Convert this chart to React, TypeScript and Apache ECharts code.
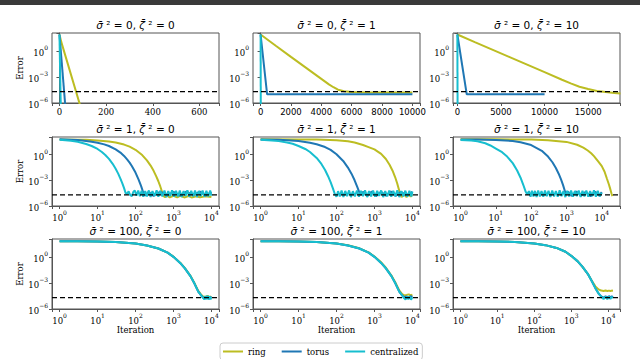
import React, { useEffect, useRef } from 'react';
import * as echarts from 'echarts';

const SERIES_NAMES = ['ring', 'torus', 'centralized'];
const SERIES_COLORS = ['#bcbd22', '#1f77b4', '#17becf'];
const SIGMA_VALUES = ['0', '1', '100'];
const ZETA_VALUES = ['0', '1', '10'];
const ERROR_FLOOR = 2e-5;
const Y_MIN = 1e-6;
const Y_MAX = 112;

// x axis ranges per panel (row-major)
const X_MIN = [-32, -500, -500, 0.631, 0.631, 0.61, 0.631, 0.631, 0.63];
const X_MAX = [684, 10500, 18650, 15849, 15849, 32800, 15849, 15849, 20900];
const X_STEP = [200, 2000, 5000, 1, 1, 1, 1, 1, 1];
const X_SPLIT = [4, 5, 4, 5, 5, 5, 5, 5, 5];

// ---- sigma^2 = 0 ----
const ringS0Z0 = [[0, 75], [8, 10], [100, 5e-8]];
const torusS0Z0 = [[0, 75], [27, 1e-7]];
const centralS0Z0 = [[0, 75], [6, 1e-7]];

const ringS0Z1 = [[0, 75], [1000, 3.8], [2000, 0.2], [3000, 0.011], [4000, 6e-4], [4500, 1.4e-4], [4800, 6.5e-5], [5100, 3.4e-5], [5500, 2.2e-5], [6000, 1.8e-5], [7000, 1.65e-5], [8000, 1.6e-5], [10000, 1.6e-5]];
const torusS0Z1 = [[0, 75], [430, 1e-5], [10000, 1e-5]];
const centralS0Z1 = [[0, 75], [15, 1e-8]];

const ringS0Z10 = [[0, 75], [2000, 10], [4000, 1.4], [6000, 0.19], [8000, 0.026], [10000, 3.5e-3], [12000, 4.7e-4], [13000, 1.8e-4], [14000, 7.5e-5], [15000, 4e-5], [16000, 2.4e-5], [17000, 1.8e-5], [18000, 1.4e-5], [18700, 1.25e-5]];
const torusS0Z10 = [[0, 75], [1075, 1e-5], [10000, 1e-5]];
const centralS0Z10 = [[0, 75], [30, 1e-8]];

// ---- sigma^2 = 1 ----
const ringS1Z0 = [[1, 58], [3, 55], [5, 52], [10, 45], [20, 34], [30, 26], [50, 14.6], [70, 8.3], [100, 3.6], [150, 0.88], [200, 0.21], [250, 0.052], [300, 0.0127], [350, 3.1e-3], [400, 7.7e-4], [450, 1.9e-4], [500, 4.6e-5], [540, 1.5e-5], [600, 1.1e-5], [700, 1.6e-5], [800, 1e-5], [1000, 1.5e-5], [1250, 1e-5], [1500, 1.5e-5], [2000, 1e-5], [2500, 1.45e-5], [3000, 1e-5], [4000, 1.4e-5], [5000, 1.05e-5], [7000, 1.4e-5], [10000, 1.1e-5]];
const torusS1Z0 = [[1, 60], [2, 55], [3, 50], [5, 38], [7, 31], [10, 24.5], [15, 15.5], [20, 10], [30, 4.1], [40, 1.7], [50, 0.69], [60, 0.28], [70, 0.116], [80, 0.047], [100, 7.9e-3], [120, 1.3e-3], [140, 2.2e-4], [160, 3.7e-5], [180, 1.6e-5], [220, 4.4e-5], [300, 1.5e-5], [450, 4.8e-5], [700, 1.7e-5], [1000, 4.6e-5], [1500, 1.6e-5], [2200, 4.9e-5], [3300, 1.8e-5], [5000, 4.7e-5], [7000, 1.6e-5], [10000, 4.3e-5]];
const centralS1Z0 = [[1, 55], [2, 42], [3, 31], [5, 17], [7, 10], [10, 4.5], [13, 1.96], [16, 0.89], [20, 0.31], [25, 0.083], [30, 0.022], [35, 6e-3], [40, 1.6e-3], [45, 4.4e-4], [50, 1.2e-4], [55, 3.2e-5], [60, 2.6e-5], [66, 5.2e-5], [72, 2e-5], [80, 1.4e-5], [88, 4.6e-5], [96, 6.4e-5], [106, 1.6e-5], [118, 6.5e-5], [130, 1.4e-5], [145, 6e-5], [160, 1.2e-5], [180, 5.6e-5], [200, 1.3e-5], [225, 6.6e-5], [250, 1.1e-5], [280, 5.4e-5], [320, 1.5e-5], [360, 6.8e-5], [400, 1.2e-5], [450, 5.9e-5], [510, 1.3e-5], [580, 6.4e-5], [650, 1.1e-5], [730, 5.5e-5], [820, 1.4e-5], [920, 6.9e-5], [1040, 1.2e-5], [1170, 5.8e-5], [1310, 1.3e-5], [1470, 6.3e-5], [1650, 1.1e-5], [1850, 5.6e-5], [2080, 1.5e-5], [2330, 6.6e-5], [2620, 1.2e-5], [2940, 6e-5], [3300, 1.3e-5], [3700, 6.5e-5], [4150, 1.1e-5], [4650, 5.7e-5], [5220, 1.4e-5], [5860, 6.2e-5], [6580, 1.2e-5], [7380, 5.9e-5], [8280, 1.3e-5], [9290, 6.4e-5], [10000, 1.6e-5]];

const ringS1Z1 = [[1, 60], [10, 59], [30, 57], [100, 48], [200, 35], [300, 25], [500, 13], [700, 7.5], [1000, 4], [1500, 1.2], [2000, 0.3], [2500, 0.065], [3000, 0.013], [3500, 2.4e-3], [4000, 4e-4], [4500, 6e-5], [4800, 2e-5], [5200, 1.1e-5], [6000, 2.4e-5], [7000, 1.1e-5], [8000, 2.3e-5], [9000, 1.2e-5], [10000, 2.2e-5]];
const torusS1Z1 = [[1, 58], [3, 53], [5, 48], [10, 38], [20, 24], [30, 16], [50, 7.5], [70, 3.5], [100, 1.1], [150, 0.18], [200, 0.03], [250, 5.5e-3], [300, 1e-3], [350, 1.8e-4], [400, 4e-5], [430, 2e-5], [500, 4.5e-5], [650, 1.5e-5], [850, 4.8e-5], [1100, 1.4e-5], [1500, 4.6e-5], [2000, 1.6e-5], [2700, 4.9e-5], [3600, 1.5e-5], [5000, 4.5e-5], [7000, 1.7e-5], [10000, 4.4e-5]];
const centralS1Z1 = [[1, 52], [2, 44], [3, 37], [5, 26], [7, 18], [10, 10], [15, 4.5], [20, 2], [30, 0.4], [40, 0.08], [50, 0.016], [60, 3e-3], [70, 6e-4], [80, 1.2e-4], [90, 2.6e-5], [100, 1.2e-5], [110, 5.4e-5], [122, 1.3e-5], [136, 6.3e-5], [152, 1.1e-5], [170, 5.7e-5], [190, 1.4e-5], [215, 6.5e-5], [240, 1.1e-5], [270, 5.3e-5], [305, 1.3e-5], [345, 6.4e-5], [390, 1.2e-5], [440, 5.9e-5], [500, 1.4e-5], [565, 6.6e-5], [640, 1.1e-5], [720, 5.5e-5], [815, 1.3e-5], [920, 6.2e-5], [1040, 1.2e-5], [1180, 5.8e-5], [1330, 1.5e-5], [1500, 6.5e-5], [1700, 1.1e-5], [1920, 5.6e-5], [2170, 1.3e-5], [2450, 6.3e-5], [2770, 1.2e-5], [3130, 5.9e-5], [3540, 1.4e-5], [4000, 6.6e-5], [4520, 1.1e-5], [5100, 5.4e-5], [5770, 1.3e-5], [6520, 6.1e-5], [7370, 1.2e-5], [8330, 5.7e-5], [9400, 1.3e-5], [10000, 5e-5]];

const ringS1Z10 = [[1, 60], [10, 60], [100, 56], [300, 48], [1000, 30], [2000, 14], [3000, 6.5], [4000, 3], [5000, 1.4], [6000, 0.65], [8000, 0.15], [10000, 0.045], [12000, 0.01], [14000, 1.5e-3], [16000, 3e-4], [17000, 1.3e-4], [18000, 5.5e-5], [19000, 2.5e-5], [20000, 1.4e-5]];
const torusS1Z10 = [[1, 59], [3, 57], [10, 51], [30, 38], [50, 28], [100, 12.9], [200, 2.77], [300, 0.59], [400, 0.127], [500, 0.027], [600, 5.8e-3], [700, 1.25e-3], [800, 2.7e-4], [900, 5.7e-5], [960, 2.2e-5], [1100, 4.6e-5], [1400, 1.5e-5], [1900, 4.8e-5], [2600, 1.6e-5], [3500, 4.5e-5], [4800, 1.4e-5], [6500, 4.7e-5], [8500, 1.7e-5], [10000, 4.2e-5]];
const centralS1Z10 = [[1, 50], [2, 43], [3, 35], [5, 21], [7, 11.5], [10, 5], [15, 1.9], [20, 0.7], [30, 0.1], [40, 0.014], [50, 2e-3], [60, 2.8e-4], [70, 4.5e-5], [78, 2.2e-5], [86, 5.5e-5], [96, 1.2e-5], [105, 6.2e-5], [116, 1.3e-5], [128, 5.8e-5], [142, 1.1e-5], [158, 6.4e-5], [176, 1.3e-5], [196, 5.6e-5], [220, 1.2e-5], [246, 6.5e-5], [276, 1.4e-5], [310, 5.9e-5], [350, 1.1e-5], [395, 6.3e-5], [445, 1.3e-5], [500, 5.7e-5], [565, 1.2e-5], [640, 6.6e-5], [725, 1.4e-5], [820, 5.5e-5], [930, 1.1e-5], [1050, 6.1e-5], [1190, 1.3e-5], [1350, 6.4e-5], [1530, 1.2e-5], [1730, 5.7e-5], [1960, 1.4e-5], [2220, 6.5e-5], [2510, 1.1e-5], [2840, 5.9e-5], [3220, 1.3e-5], [3650, 6.3e-5], [4130, 1.2e-5], [4680, 5.6e-5], [5300, 1.4e-5], [6000, 6.6e-5], [6800, 1.2e-5], [7700, 5.8e-5], [8720, 1.3e-5], [10000, 3.5e-5]];

// ---- sigma^2 = 100 ----
const ringS100Z0 = [[1, 63], [3, 62], [10, 58], [30, 51], [100, 34], [200, 20], [400, 9.1], [700, 3], [1000, 1.05], [1500, 0.21], [2000, 0.05], [2800, 6.5e-3], [3550, 1e-3], [4500, 1.2e-4], [5300, 4.8e-5], [6000, 2.8e-5], [7000, 2.4e-5], [8000, 3.2e-5], [9000, 2.3e-5], [10000, 2.9e-5]];
const torusS100Z0 = [[1, 63], [3, 62], [10, 58], [30, 50], [100, 34], [200, 20], [400, 9.1], [700, 3], [1000, 1.0], [1500, 0.2], [2000, 0.047], [2800, 6e-3], [3550, 9e-4], [4500, 1e-4], [5300, 4e-5], [6000, 2.1e-5], [6800, 1.6e-5], [7600, 2.8e-5], [8400, 1.6e-5], [9200, 2.6e-5], [10000, 2e-5]];
const centralS100Z0 = [[1, 63], [3, 62], [10, 58], [30, 50], [100, 34], [200, 20], [400, 9.1], [700, 3], [1000, 1.0], [1500, 0.2], [2000, 0.047], [2800, 6e-3], [3550, 9e-4], [4500, 1e-4], [5300, 4e-5], [6000, 2e-5], [6500, 1.3e-5], [7000, 3e-5], [7500, 1.3e-5], [8000, 3.3e-5], [8500, 1.2e-5], [9000, 2.9e-5], [9500, 1.3e-5], [10000, 2.3e-5]];

const ringS100Z1 = [[1, 63], [3, 62], [10, 58], [30, 51], [100, 35], [200, 21], [400, 9.5], [700, 3.2], [1000, 1.1], [1500, 0.23], [2000, 0.055], [2800, 7e-3], [3550, 1.1e-3], [4500, 1.4e-4], [5300, 5.5e-5], [6000, 3.8e-5], [7000, 4.2e-5], [8000, 4.8e-5], [9000, 3.8e-5], [10000, 4.4e-5]];
const torusS100Z1 = [[1, 63], [3, 62], [10, 58], [30, 50], [100, 34], [200, 20], [400, 9.1], [700, 3], [1000, 1.0], [1500, 0.2], [2000, 0.047], [2800, 6e-3], [3550, 9e-4], [4500, 1e-4], [5300, 4e-5], [6000, 2.3e-5], [7000, 2.8e-5], [8000, 2e-5], [9000, 3e-5], [10000, 2.4e-5]];
const centralS100Z1 = [[1, 63], [3, 62], [10, 58], [30, 50], [100, 34], [200, 20], [400, 9.1], [700, 3], [1000, 1.0], [1500, 0.2], [2000, 0.047], [2800, 6e-3], [3550, 9e-4], [4500, 1e-4], [5300, 4e-5], [6000, 1.8e-5], [6600, 1.2e-5], [7200, 2.8e-5], [7800, 1.3e-5], [8500, 2.7e-5], [9200, 1.2e-5], [10000, 2.2e-5]];

const ringS100Z10 = [[1, 63], [3, 62], [10, 58], [30, 51], [100, 35], [200, 22], [400, 10.5], [700, 3.8], [1000, 1.3], [1500, 0.3], [2000, 0.075], [2800, 0.011], [3500, 2.2e-3], [4500, 4e-4], [5500, 1.8e-4], [6500, 1.3e-4], [7500, 1.2e-4], [8500, 1.35e-4], [9500, 1.2e-4], [10500, 1.3e-4], [11500, 1.2e-4], [12500, 1.3e-4], [13500, 1.25e-4]];
const torusS100Z10 = [[1, 63], [3, 62], [10, 58], [30, 51], [100, 35], [200, 22], [400, 10.5], [700, 3.8], [1000, 1.3], [1500, 0.3], [2000, 0.075], [2800, 0.011], [3500, 2e-3], [4500, 2.5e-4], [5500, 6e-5], [6500, 2.8e-5], [7500, 2e-5], [8500, 2.9e-5], [9500, 2.1e-5], [10500, 3e-5], [11500, 2.2e-5], [12500, 2.8e-5], [13500, 2.3e-5]];
const centralS100Z10 = [[1, 63], [3, 62], [10, 58], [30, 51], [100, 35], [200, 22], [400, 10.5], [700, 3.8], [1000, 1.3], [1500, 0.3], [2000, 0.075], [2800, 0.011], [3500, 2e-3], [4500, 2.5e-4], [5500, 6e-5], [6500, 2.6e-5], [7500, 1.4e-5], [8500, 2.7e-5], [9500, 1.3e-5], [10500, 2.8e-5], [11500, 1.4e-5], [12500, 2.5e-5], [13500, 1.8e-5]];

const PANEL_DATA = [
  [ringS0Z0, torusS0Z0, centralS0Z0],
  [ringS0Z1, torusS0Z1, centralS0Z1],
  [ringS0Z10, torusS0Z10, centralS0Z10],
  [ringS1Z0, torusS1Z0, centralS1Z0],
  [ringS1Z1, torusS1Z1, centralS1Z1],
  [ringS1Z10, torusS1Z10, centralS1Z10],
  [ringS100Z0, torusS100Z0, centralS100Z0],
  [ringS100Z1, torusS100Z1, centralS100Z1],
  [ringS100Z10, torusS100Z10, centralS100Z10],
];

// layout
const GRID_LEFT = [52, 253, 453];
const GRID_WIDTH = 167;
const GRID_TOP = [33, 137, 239];
const GRID_HEIGHT = [70, 69, 70];
const TITLE_Y = [25, 129, 231];

const POW_RICH = {
  b: { fontSize: 8.5, fontFamily: 'DejaVu Serif', color: '#000', lineHeight: 13, verticalAlign: 'bottom' },
  s: { fontSize: 6, fontFamily: 'DejaVu Serif', color: '#000', lineHeight: 7, verticalAlign: 'top' },
};

function pow10Label(v: number): string {
  const l = Math.log10(v);
  const e = Math.round(l);
  if (Math.abs(l - e) > 1e-6) return '';
  const exp = e < 0 ? '\u2212' + String(-e) : String(e);
  return `{b|10}{s|${exp}}`;
}

function buildOption() {
  const grids: any[] = [];
  const xAxes: any[] = [];
  const yAxes: any[] = [];
  const series: any[] = [];
  const graphics: any[] = [
    { type: 'rect', shape: { x: 0, y: 0, width: 640, height: 5 }, style: { fill: '#3a3a3a' }, silent: true },
  ];
  const axisColor = '#555';

  for (let i = 0; i < 9; i++) {
    const row = Math.floor(i / 3);
    const col = i % 3;
    const isLog = row > 0;
    grids.push({
      left: GRID_LEFT[col], top: GRID_TOP[row], width: GRID_WIDTH, height: GRID_HEIGHT[row],
      show: true, borderColor: axisColor, borderWidth: 1, backgroundColor: 'transparent',
      containLabel: false, outerBoundsMode: 'none',
    });
    const step = X_STEP[i];
    xAxes.push({
      gridIndex: i,
      type: isLog ? 'log' : 'value',
      logBase: 10,
      min: X_MIN[i], max: X_MAX[i],
      splitNumber: X_SPLIT[i],
      axisLine: { show: true, onZero: false, lineStyle: { color: axisColor, width: 1 } },
      axisTick: { show: true, inside: false, length: 3, lineStyle: { color: axisColor } },
      splitLine: { show: false },
      minorTick: { show: false },
      axisLabel: {
        show: true, margin: isLog ? 3 : 4, color: '#000', fontSize: 8.5,
        fontFamily: isLog || col === 0 ? 'DejaVu Serif' : 'DejaVu Sans',
        rich: POW_RICH,
        formatter: isLog
          ? (v: number) => pow10Label(v)
          : (v: number) => (Math.abs(v % step) < 1e-9 ? String(Math.round(v)) : ''),
      },
      name: row === 2 ? 'Iteration' : '',
      nameLocation: 'middle', nameGap: 13,
      nameTextStyle: { fontFamily: 'DejaVu Serif', fontSize: 8.5, color: '#000' },
    });
    yAxes.push({
      gridIndex: i,
      type: 'log', logBase: 10,
      min: Y_MIN, max: Y_MAX, interval: 3,
      axisLine: { show: true, lineStyle: { color: axisColor, width: 1 } },
      axisTick: { show: true, inside: false, length: 3, lineStyle: { color: axisColor } },
      splitLine: { show: false },
      axisLabel: {
        show: true, margin: 4, color: '#000', fontSize: 8.5, fontFamily: 'DejaVu Serif',
        rich: POW_RICH,
        formatter: (v: number) => {
          const l = Math.round(Math.log10(v));
          return l % 3 === 0 ? pow10Label(v) : '';
        },
      },
      name: col === 0 ? 'Error' : '',
      nameLocation: 'middle', nameGap: 25,
      nameTextStyle: { fontFamily: 'DejaVu Serif', fontSize: 8.5, color: '#000' },
    });
    for (let s = 0; s < 3; s++) {
      series.push({
        type: 'line',
        name: SERIES_NAMES[s],
        xAxisIndex: i, yAxisIndex: i,
        data: PANEL_DATA[i][s],
        symbol: 'none', showSymbol: false,
        lineStyle: { width: 2, color: SERIES_COLORS[s] },
        itemStyle: { color: SERIES_COLORS[s] },
        clip: true, z: 2 + s,
      });
    }
    // dashed error floor line spanning the panel
    series.push({
      type: 'line',
      name: 'floor',
      xAxisIndex: i, yAxisIndex: i,
      data: [[X_MIN[i], ERROR_FLOOR], [X_MAX[i], ERROR_FLOOR]],
      symbol: 'none', showSymbol: false, silent: true,
      lineStyle: { width: 1.3, color: '#000', type: [5, 3] },
      itemStyle: { color: '#000' },
      clip: true, z: 6,
    });
    graphics.push({
      type: 'text',
      x: GRID_LEFT[col] + GRID_WIDTH / 2,
      y: TITLE_Y[row],
      silent: true,
      style: {
        text: `{g|\u03c3\u0304} \u00b2 = ${SIGMA_VALUES[row]}, {g|\u03b6\u0304} \u00b2 = ${ZETA_VALUES[col]}`,
        fontFamily: 'DejaVu Sans', fontSize: 10.5, fill: '#000',
        align: 'center', verticalAlign: 'middle',
        textAlign: 'center', textVerticalAlign: 'middle',
        rich: { g: { fontStyle: 'italic', fontFamily: 'DejaVu Sans', fontSize: 10.5, fill: '#000' } },
      },
    });
  }

  return {
    animation: false,
    backgroundColor: '#fff',
    grid: grids,
    xAxis: xAxes,
    yAxis: yAxes,
    series,
    graphic: graphics,
    legend: {
      data: SERIES_NAMES,
      left: 220, top: 343,
      icon: 'rect', itemWidth: 20, itemHeight: 2, itemGap: 16,
      textStyle: { fontFamily: 'DejaVu Serif', fontSize: 8.5, color: '#000' },
      borderColor: '#ccc', borderWidth: 1, borderRadius: 3,
      padding: [4, 4, 4, 3], backgroundColor: '#fff',
    },
  };
}

export default function App() {
  const ref = useRef<HTMLDivElement>(null);
  useEffect(() => {
    if (!ref.current) return;
    const chart = echarts.init(ref.current, null, { renderer: 'svg' });
    chart.setOption(buildOption() as any);
    return () => chart.dispose();
  }, []);
  return (
    <div
      ref={ref}
      style={{ position: 'fixed', left: 0, top: 0, width: 640, height: 359, background: '#fff' }}
    />
  );
}
